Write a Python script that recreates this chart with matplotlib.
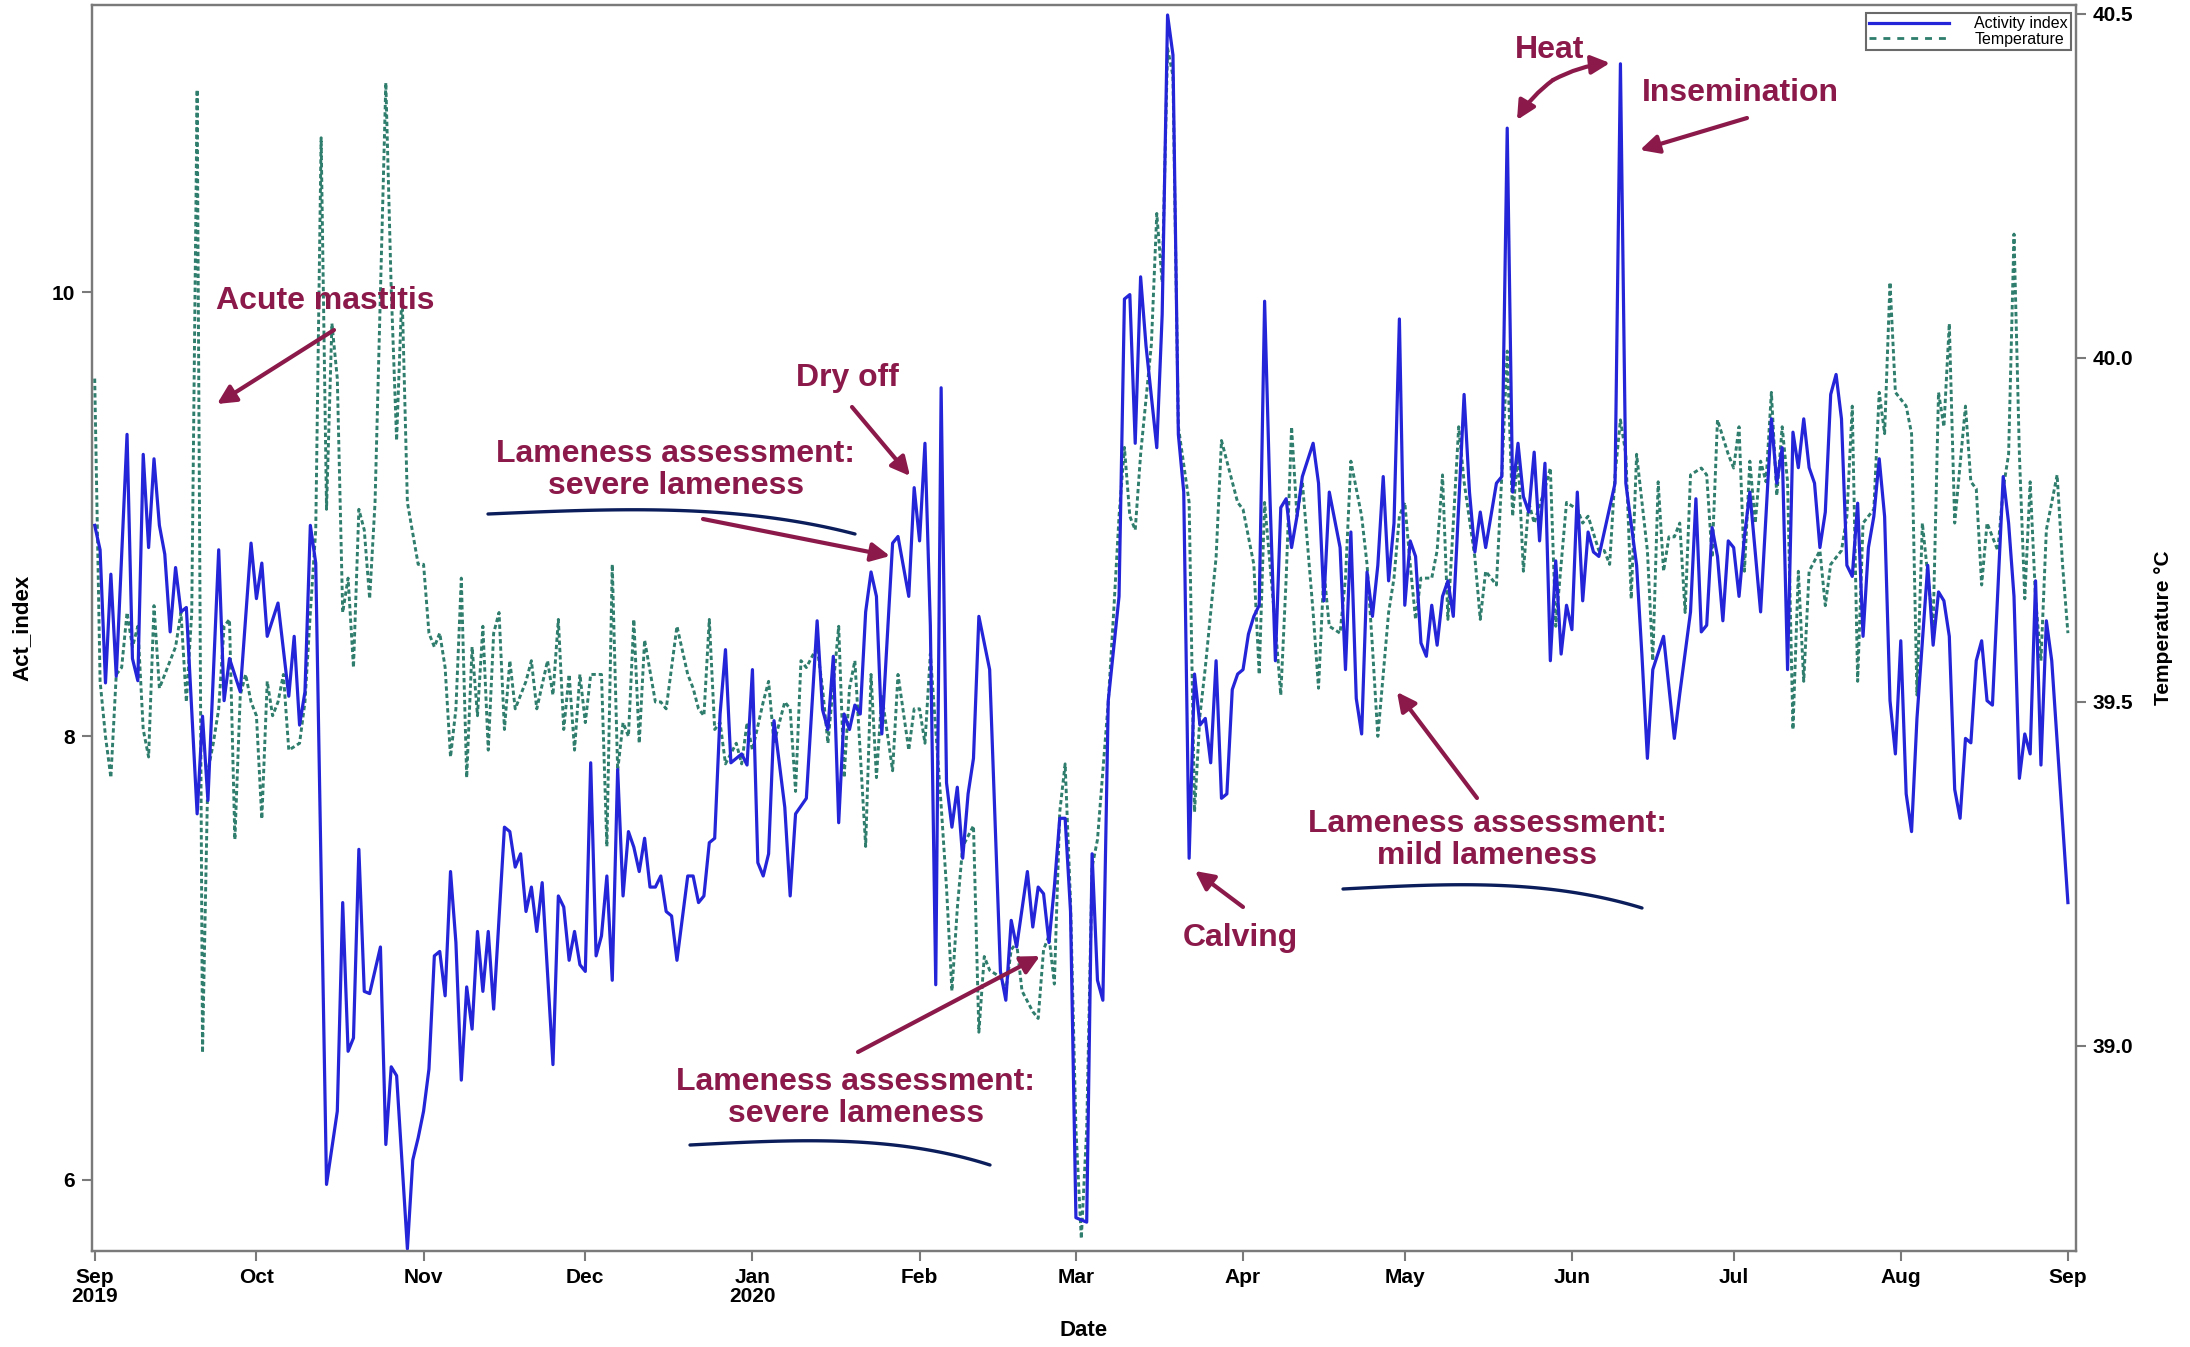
import numpy as np
import pandas as pd
import matplotlib
matplotlib.use('Agg')
import matplotlib.pyplot as plt
import matplotlib.dates as mdates
from matplotlib.lines import Line2D

# day offset from 2019-09-01
act_sep19 = [(0, 8.95), (1, 8.84), (2, 8.24), (3, 8.73), (4, 8.27), (6, 9.36), (7, 8.35), (8, 8.25), (9, 9.27),
             (10, 8.85), (11, 9.25), (12, 8.95), (13, 8.82), (14, 8.47), (15, 8.76), (16, 8.56), (17, 8.58),
             (19, 7.65), (20, 8.09), (21, 7.71), (23, 8.84), (24, 8.16), (25, 8.35), (27, 8.20), (29, 8.87)]
act_oct19 = [(30, 8.62), (31, 8.78), (32, 8.45), (34, 8.60), (36, 8.18), (37, 8.45), (38, 8.05), (39, 8.20),
             (40, 8.95), (41, 8.78), (43, 5.98), (45, 6.31), (46, 7.25), (47, 6.58), (48, 6.64), (49, 7.49),
             (50, 6.85), (51, 6.84), (53, 7.05), (54, 6.16), (55, 6.51), (56, 6.47), (58, 5.69), (59, 6.09), (60, 6.19)]
act_nov19 = [(61, 6.31), (62, 6.50), (63, 7.01), (64, 7.03), (65, 6.83), (66, 7.39), (67, 7.07), (68, 6.45),
             (69, 6.87), (70, 6.68), (71, 7.12), (72, 6.85), (73, 7.12), (74, 6.77), (76, 7.59), (77, 7.57),
             (78, 7.41), (79, 7.47), (80, 7.21), (81, 7.32), (82, 7.12), (83, 7.34), (85, 6.52), (86, 7.28),
             (87, 7.23), (88, 6.99), (89, 7.12), (90, 6.97)]
act_dec19 = [(91, 6.94), (92, 7.88), (93, 7.01), (94, 7.10), (95, 7.37), (96, 6.90), (97, 7.85), (98, 7.28),
             (99, 7.57), (100, 7.50), (101, 7.39), (102, 7.54), (103, 7.32), (104, 7.32), (105, 7.37), (106, 7.21),
             (107, 7.19), (108, 6.99), (110, 7.37), (111, 7.37), (112, 7.25), (113, 7.28), (114, 7.52), (115, 7.54),
             (116, 8.10), (117, 8.39), (118, 7.88), (120, 7.92), (121, 7.87)]
act_jan20 = [(122, 8.30), (123, 7.43), (124, 7.37), (125, 7.47), (126, 8.07), (128, 7.68), (129, 7.28), (130, 7.65),
             (132, 7.72), (133, 8.12), (134, 8.52), (135, 8.12), (136, 8.03), (137, 8.36), (138, 7.61), (139, 8.10),
             (140, 8.03), (141, 8.14), (142, 8.10), (143, 8.56), (144, 8.74), (145, 8.63), (146, 8.01), (148, 8.87),
             (149, 8.90), (151, 8.63), (152, 9.12)]
act_feb20 = [(153, 8.88), (154, 9.32), (155, 8.50), (156, 6.88), (157, 9.57), (158, 7.79), (159, 7.59), (160, 7.77),
             (161, 7.45), (162, 7.74), (163, 7.90), (164, 8.54), (166, 8.30), (168, 6.94), (169, 6.81), (170, 7.17),
             (171, 7.05), (173, 7.39), (174, 7.14), (175, 7.32), (176, 7.29), (177, 7.07), (178, 7.32), (179, 7.63),
             (180, 7.63), (181, 7.21)]
act_mar20 = [(182, 5.83), (184, 5.81), (185, 7.47), (186, 6.90), (187, 6.81), (188, 8.16), (190, 8.63), (191, 9.97),
             (192, 9.99), (193, 9.32), (194, 10.07), (195, 9.76), (197, 9.30), (198, 9.90), (199, 11.25), (200, 11.07),
             (201, 9.36), (202, 9.10), (203, 7.45), (204, 8.28), (205, 8.05), (206, 8.08), (207, 7.88), (208, 8.34),
             (209, 7.72), (210, 7.74), (211, 8.21), (212, 8.28)]
act_apr20 = [(213, 8.30), (214, 8.46), (215, 8.54), (216, 8.59), (217, 9.96), (218, 9.07), (219, 8.34), (220, 9.03),
             (221, 9.07), (222, 8.85), (223, 8.99), (224, 9.17), (226, 9.32), (227, 9.14), (228, 8.61), (229, 9.10),
             (231, 8.85), (232, 8.30), (233, 8.92), (234, 8.17), (235, 8.01), (236, 8.74), (237, 8.54), (238, 8.77),
             (239, 9.17), (240, 8.70), (241, 8.96), (242, 9.88)]
act_may20 = [(243, 8.59), (244, 8.88), (245, 8.81), (246, 8.42), (247, 8.36), (248, 8.59), (249, 8.41), (250, 8.63),
             (251, 8.70), (252, 8.54), (254, 9.54), (255, 9.10), (256, 8.83), (257, 9.01), (258, 8.85), (260, 9.14),
             (261, 9.17), (262, 10.74), (263, 9.10), (264, 9.32), (265, 9.08), (266, 9.01), (267, 9.28), (268, 8.88),
             (269, 9.23), (270, 8.34), (271, 8.79), (272, 8.37), (273, 8.59)]
act_jun20 = [(274, 8.48), (275, 9.10), (276, 8.61), (277, 8.92), (278, 8.83), (279, 8.81), (280, 8.92), (282, 9.14),
             (283, 11.03), (284, 9.14), (286, 8.77), (287, 8.36), (288, 7.90), (289, 8.30), (291, 8.45), (293, 7.99),
             (294, 8.19), (296, 8.56), (297, 9.07), (298, 8.47), (299, 8.50), (300, 8.94), (301, 8.81), (302, 8.52),
             (303, 8.88)]
act_jul20 = [(304, 8.85), (305, 8.63), (306, 8.90), (307, 9.10), (309, 8.56), (311, 9.43), (312, 9.14), (313, 9.30),
             (314, 8.30), (315, 9.37), (316, 9.21), (317, 9.43), (318, 9.21), (319, 9.14), (320, 8.85), (321, 9.01),
             (322, 9.54), (323, 9.63), (324, 9.43), (325, 8.77), (326, 8.72), (327, 9.05), (328, 8.45), (329, 8.85),
             (330, 8.99), (331, 9.25), (332, 8.99), (333, 8.16), (334, 7.92)]
act_aug20 = [(335, 8.43), (336, 7.74), (337, 7.57), (338, 8.08), (340, 8.77), (341, 8.41), (342, 8.65), (343, 8.61),
             (344, 8.45), (345, 7.76), (346, 7.63), (347, 7.99), (348, 7.97), (349, 8.34), (350, 8.43), (351, 8.16),
             (352, 8.14), (354, 9.17), (355, 8.96), (356, 8.63), (357, 7.81), (358, 8.01), (359, 7.92), (360, 8.70),
             (361, 7.87), (362, 8.52), (363, 8.34), (366, 7.25)]

temp_sep19 = [(0, 39.97), (1, 39.53), (2, 39.45), (3, 39.39), (4, 39.54), (5, 39.55), (6, 39.63), (7, 39.58),
              (8, 39.61), (9, 39.46), (10, 39.42), (11, 39.64), (12, 39.52), (13, 39.54), (14, 39.56), (15, 39.58),
              (16, 39.63), (17, 39.50), (18, 39.63), (19, 40.39), (20, 38.99), (21, 39.40), (22, 39.44), (23, 39.49),
              (24, 39.61), (25, 39.62), (26, 39.30), (27, 39.51), (28, 39.54), (29, 39.50)]
temp_oct19 = [(30, 39.48), (31, 39.33), (32, 39.53), (33, 39.48), (34, 39.50), (35, 39.54), (36, 39.43), (38, 39.44),
              (39, 39.50), (40, 39.63), (41, 39.75), (42, 40.32), (43, 39.78), (44, 40.05), (45, 39.97), (46, 39.63),
              (47, 39.68), (48, 39.55), (49, 39.78), (50, 39.75), (51, 39.65), (52, 39.79), (54, 40.40), (55, 40.10),
              (56, 39.88), (57, 40.10), (58, 39.79), (60, 39.70)]
temp_nov19 = [(61, 39.70), (62, 39.60), (63, 39.58), (64, 39.60), (65, 39.55), (66, 39.42), (67, 39.49), (68, 39.68),
              (69, 39.39), (70, 39.58), (71, 39.48), (72, 39.61), (73, 39.43), (74, 39.60), (75, 39.63), (76, 39.46),
              (77, 39.56), (78, 39.49), (80, 39.53), (81, 39.56), (82, 39.49), (84, 39.56), (85, 39.51), (86, 39.62),
              (87, 39.46), (88, 39.54), (89, 39.43), (90, 39.54)]
temp_dec19 = [(91, 39.47), (92, 39.54), (94, 39.54), (95, 39.29), (96, 39.70), (97, 39.40), (98, 39.47), (99, 39.45),
              (100, 39.62), (101, 39.44), (102, 39.59), (104, 39.50), (105, 39.50), (106, 39.49), (108, 39.61),
              (110, 39.54), (111, 39.52), (112, 39.49), (113, 39.48), (114, 39.62), (115, 39.46), (116, 39.47),
              (117, 39.41), (119, 39.44), (120, 39.41), (121, 39.47)]
temp_jan20 = [(122, 39.43), (124, 39.50), (125, 39.53), (126, 39.44), (128, 39.50), (129, 39.49), (130, 39.37),
              (131, 39.56), (132, 39.55), (134, 39.58), (135, 39.52), (136, 39.44), (138, 39.61), (139, 39.39),
              (140, 39.52), (141, 39.56), (143, 39.29), (144, 39.54), (145, 39.39), (146, 39.51), (148, 39.40),
              (149, 39.54), (151, 39.43), (152, 39.49)]
temp_feb20 = [(153, 39.49), (154, 39.44), (155, 39.57), (157, 39.35), (158, 39.23), (159, 39.08), (160, 39.20),
              (161, 39.29), (163, 39.32), (164, 39.02), (165, 39.13), (166, 39.11), (168, 39.10), (169, 39.08),
              (170, 39.14), (171, 39.15), (172, 39.08), (174, 39.05), (175, 39.04), (176, 39.14), (177, 39.16),
              (178, 39.09), (179, 39.34), (180, 39.41), (181, 39.21)]
temp_mar20 = [(182, 38.88), (183, 38.72), (184, 38.88), (185, 39.26), (186, 39.30), (188, 39.50), (189, 39.63),
              (190, 39.77), (191, 39.87), (192, 39.77), (193, 39.75), (194, 39.86), (196, 40.02), (197, 40.21),
              (198, 40.11), (199, 40.45), (200, 40.41), (201, 39.90), (203, 39.79), (204, 39.34), (205, 39.48),
              (206, 39.55), (207, 39.63), (208, 39.71), (209, 39.88), (211, 39.82), (212, 39.79)]
temp_apr20 = [(213, 39.78), (215, 39.70), (216, 39.54), (217, 39.79), (219, 39.61), (220, 39.51), (221, 39.68),
              (222, 39.90), (223, 39.77), (224, 39.82), (226, 39.63), (227, 39.52), (228, 39.69), (229, 39.61),
              (231, 39.60), (232, 39.68), (233, 39.85), (235, 39.77), (236, 39.70), (237, 39.58), (238, 39.45),
              (240, 39.63), (241, 39.68), (242, 39.77)]
temp_may20 = [(243, 39.79), (244, 39.70), (245, 39.62), (246, 39.68), (248, 39.68), (249, 39.72), (250, 39.83),
              (251, 39.62), (252, 39.76), (253, 39.90), (254, 39.82), (256, 39.71), (257, 39.62), (258, 39.69),
              (259, 39.68), (260, 39.67), (261, 39.83), (262, 40.01), (263, 39.77), (264, 39.86), (265, 39.69),
              (266, 39.79), (267, 39.76), (269, 39.81), (270, 39.84), (271, 39.61), (272, 39.70), (273, 39.79)]
temp_jun20 = [(275, 39.78), (276, 39.76), (277, 39.77), (279, 39.72), (280, 39.72), (281, 39.70), (282, 39.83),
              (283, 39.91), (284, 39.86), (285, 39.65), (286, 39.86), (288, 39.72), (289, 39.56), (290, 39.82),
              (291, 39.69), (292, 39.74), (293, 39.74), (294, 39.76), (295, 39.63), (296, 39.83), (298, 39.84),
              (299, 39.83), (300, 39.71), (301, 39.91), (303, 39.86)]
temp_jul20 = [(304, 39.84), (305, 39.90), (306, 39.69), (307, 39.85), (308, 39.76), (309, 39.85), (310, 39.82),
              (311, 39.95), (312, 39.80), (313, 39.90), (314, 39.82), (315, 39.46), (316, 39.69), (317, 39.53),
              (318, 39.69), (320, 39.72), (321, 39.64), (322, 39.70), (324, 39.72), (325, 39.77), (326, 39.93),
              (327, 39.53), (328, 39.76), (330, 39.78), (331, 39.95), (332, 39.89), (333, 40.11), (334, 39.95)]
temp_aug20 = [(336, 39.93), (337, 39.89), (338, 39.51), (339, 39.76), (341, 39.61), (342, 39.95), (343, 39.90),
              (344, 40.05), (345, 39.76), (347, 39.93), (348, 39.82), (349, 39.81), (350, 39.67), (351, 39.76),
              (353, 39.72), (354, 39.81), (355, 39.86), (356, 40.18), (357, 39.86), (358, 39.65), (359, 39.82),
              (360, 39.65), (361, 39.56), (362, 39.75), (364, 39.83), (365, 39.70), (366, 39.60)]

month_labels = ['Sep\n2019', 'Oct', 'Nov', 'Dec', 'Jan\n2020', 'Feb', 'Mar', 'Apr', 'May', 'Jun', 'Jul', 'Aug', 'Sep']
act_ticks = [6, 8, 10]
temp_ticks = [39.0, 39.5, 40.0, 40.5]

start = pd.Timestamp('2019-09-01')
act = (act_sep19 + act_oct19 + act_nov19 + act_dec19 + act_jan20 + act_feb20 + act_mar20 + act_apr20
       + act_may20 + act_jun20 + act_jul20 + act_aug20)
temp = (temp_sep19 + temp_oct19 + temp_nov19 + temp_dec19 + temp_jan20 + temp_feb20 + temp_mar20 + temp_apr20
        + temp_may20 + temp_jun20 + temp_jul20 + temp_aug20)
act_x = start + pd.to_timedelta([d for d, v in act], unit='D')
act_y = [v for d, v in act]
temp_x = start + pd.to_timedelta([d for d, v in temp], unit='D')
temp_y = [v for d, v in temp]
month_pos = pd.date_range('2019-09-01', periods=13, freq='MS')

BLUE = '#2424d8'
TEAL = '#2f7d6c'
RED = '#8b1a4a'
NAVY = '#0b1e5b'
GRAY = '#7a7a7a'
narrow = ['Liberation Sans Narrow', 'Liberation Sans']

fig = plt.figure(figsize=(21.9, 13.47), dpi=100)
W, H = 2190, 1347
L, R, T, B = 92, 2076, 5, 1251
ax = fig.add_axes([L / W, 1 - B / H, (R - L) / W, (B - T) / H])
ax2 = ax.twinx()
ax.set_zorder(ax2.get_zorder() + 1)
ax.patch.set_visible(False)

ax2.plot(temp_x, temp_y, color=TEAL, lw=2.1, linestyle=(0, (1.5, 1.0)))
ax.plot(act_x, act_y, color=BLUE, lw=2.3)

ax.set_xlim(mdates.date2num(start) - 0.5, mdates.date2num(start) + 367.5)
ax.set_ylim(5.68, 11.295)
ax2.set_ylim(38.702, 40.513)

ax.set_xticks(month_pos)
ax.set_xticklabels(month_labels, fontfamily=narrow, fontweight='bold', fontsize=15, linespacing=1.0)
ax.set_yticks(act_ticks)
ax.set_yticklabels([str(t) for t in act_ticks], fontfamily=narrow, fontweight='bold', fontsize=15)
ax2.set_yticks(temp_ticks)
ax2.set_yticklabels(['%.1f' % t for t in temp_ticks], fontfamily=narrow, fontweight='bold', fontsize=15)

for a in (ax, ax2):
    a.tick_params(direction='out', length=7, width=1.5, color=GRAY, pad=5)
    for s in a.spines.values():
        s.set_color(GRAY)
        s.set_linewidth(1.6)

ax.set_xlabel('Date', fontfamily='Liberation Sans', fontweight='bold', fontsize=16)
ax.set_ylabel('Act_index', fontfamily='Liberation Sans', fontweight='bold', fontsize=16)
ax2.set_ylabel('Temperature °C', fontfamily='Liberation Sans', fontweight='bold', fontsize=15, rotation=90)
ax.xaxis.set_label_coords(0.5, -0.055)
ax.yaxis.set_label_coords(-0.030, 0.5)
ax2.yaxis.set_label_coords(1.0395, 0.5)

handles = [Line2D([], [], color=BLUE, lw=2.3), Line2D([], [], color=TEAL, lw=2.0, linestyle=(0, (2.5, 2.5)))]
leg = ax.legend(handles, ['Activity index', 'Temperature'], loc='upper right',
                bbox_to_anchor=((2071 - L) / (R - L), (B - 13) / (B - T)), borderaxespad=0,
                fancybox=False, edgecolor='#6a6a6a', framealpha=1, handlelength=5.0, handletextpad=1.6,
                borderpad=0.2, labelspacing=0.05, prop={'family': 'Liberation Sans', 'size': 11.5})
leg.get_frame().set_linewidth(1.5)


def frac(X, Y):
    return ((X - L) / (R - L), (B - Y) / (B - T))


def label(txt, X, Y):
    ax.text(*frac(X, Y), txt, transform=ax.transAxes, ha='center', va='center', multialignment='center',
            color=RED, fontsize=23, fontweight='bold', fontfamily='Liberation Sans', linespacing=1.08)


def arrow(tail, head, rad=0.0):
    ax.annotate('', xy=frac(*head), xytext=frac(*tail), xycoords='axes fraction', textcoords='axes fraction',
                arrowprops=dict(arrowstyle='-|>', color=RED, lw=3.0, mutation_scale=28, shrinkA=0, shrinkB=0,
                                connectionstyle='arc3,rad=%s' % rad))


def underline(X0, Y0, X1, Y1):
    t = np.linspace(0, 1, 60)
    xs = X0 + (X1 - X0) * t
    ys = Y0 + (Y1 - Y0) * t ** 4 - 5 * np.sin(np.pi * t)
    fx, fy = frac(xs, ys)
    ax.plot(fx, fy, color=NAVY, lw=2.4, transform=ax.transAxes, solid_capstyle='round')


label('Acute mastitis', 325, 301)
arrow((334, 330), (217, 404))

label('Dry off', 847, 378)
arrow((852, 407), (910, 476))

label('Lameness assessment:\nsevere lameness', 676, 470)
underline(488, 514, 855, 534)
arrow((703, 519), (890, 556))

label('Lameness assessment:\nsevere lameness', 856, 1098)
underline(690, 1145, 990, 1165)
arrow((858, 1052), (1040, 956))

label('Calving', 1240, 938)
arrow((1243, 907), (1195, 871))

label('Lameness assessment:\nmild lameness', 1487, 840)
underline(1343, 889, 1642, 908)
arrow((1477, 798), (1397, 692))

label('Heat', 1550, 50)
arrow((1553, 80), (1517, 120), rad=0.1)
arrow((1553, 80), (1610, 63), rad=-0.1)

label('Insemination', 1740, 93)
arrow((1747, 118), (1640, 150))

fig.savefig('out.png', dpi=100, facecolor='white')
